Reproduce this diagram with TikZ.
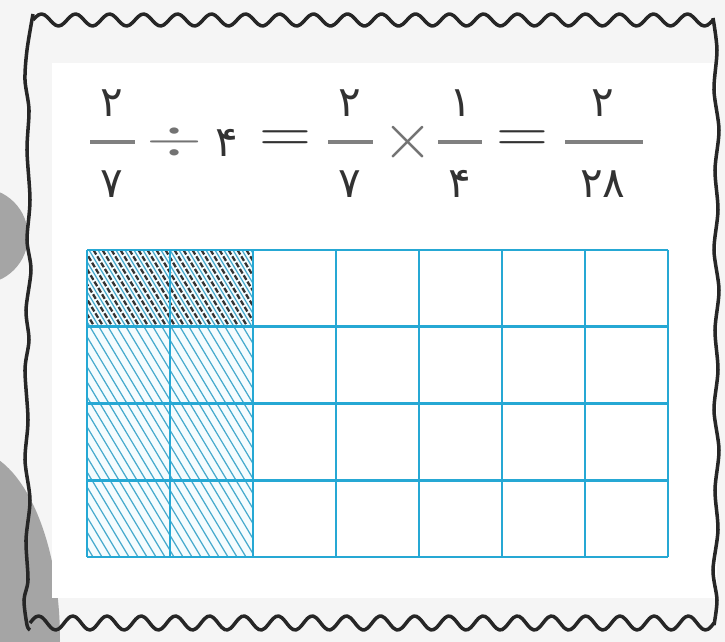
\documentclass[tikz,border=0pt]{standalone}
\usepackage{fontspec}
\usepackage{tikz}
\usetikzlibrary{positioning, calc}
\newfontfamily\fadigits[Script=Arabic]{DejaVu Sans}
\definecolor{gridblue}{RGB}{38,168,212}
\definecolor{hatchblue}{RGB}{70,170,205}
\definecolor{inkgray}{RGB}{50,50,50}
\definecolor{blobgray}{RGB}{165,165,165}

\begin{document}
\begin{tikzpicture}[x=0.02cm, y=-0.02cm,
    frameline/.style={line width=2pt, black!85, line join=round},
    gridline/.style={line width=1.6pt, gridblue},
    hatchline/.style={line width=0.7pt, hatchblue},
    darkhatch/.style={line width=1.3pt, black!80, dash pattern=on 3pt off 1.2pt},
    fracbar/.style={line width=2.2pt, black!50},
    digit/.style={inner sep=0pt, anchor=base, text=inkgray, font=\fadigits\fontsize{24}{24}\selectfont},
    oper/.style={inner sep=0pt, font=\fontsize{36}{36}\selectfont}]
  % page and background
  \useasboundingbox (0,0) rectangle (725,642);
  \fill[black!4] (0,0) rectangle (725,642);
  % grey blobs on the left
  \fill[blobgray] (-20,236) circle (48);
  \fill[blobgray] (-30,640) ellipse (90 and 190);
  % white sheet
  \fill[white] (52,63) rectangle (717,598);
  % wavy frame
  \draw[frameline] plot[domain=33:713, samples=240, smooth] (\x, {20 - 6*sin(10.588*(\x-33))});
  \draw[frameline] plot[domain=30:714, samples=240, smooth] (\x, {623 - 7*sin(10.526*(\x-30))});
  \draw[frameline] plot[smooth] coordinates
    {(33,14) (27,50) (25,80) (29,110) (27,150) (30,200) (27,240) (31,270) (26,310) (29,340)
     (25,370) (28,420) (25,460) (30,500) (26,540) (28,580) (24,600) (27,625) (30,630)};
  \draw[frameline] plot[smooth] coordinates
    {(713,18) (717,50) (714,90) (719,130) (715,170) (718,210) (714,250) (719,290) (715,330)
     (718,370) (714,410) (719,450) (715,490) (718,530) (713,570) (717,600) (714,625)};
  % equation
  \node[digit] (n1) at (112,117) {۲};
  \node[digit] (d1) at (112,198) {۷};
  \draw[fracbar] (90,142) -- (135,142);
  \node[oper, text=black!55] (divop) at (175,142) {\scalebox{1.65}[1.15]{$\div$}};
  \node[digit] (four) at (227,157) {۴};
  \node[oper, text=inkgray] (eq1) at (285,142) {\scalebox{1.65}[1.4]{$=$}};
  \node[digit] (n2) at (350,117) {۲};
  \node[digit] (d2) at (350,198) {۷};
  \draw[fracbar] (328,142) -- (373,142);
  \node[oper, text=black!55] (timesop) at (408,142) {\scalebox{1.5}{$\times$}};
  \node[digit] (n3) at (461,117) {۱};
  \node[digit] (d3) at (460,198) {۴};
  \draw[fracbar] (438,142) -- (482,142);
  \node[oper, text=inkgray] (eq2) at (522,142) {\scalebox{1.65}[1.4]{$=$}};
  \node[digit] (n4) at (603,117) {۲};
  \node[digit] (d4) at (603,198) {۲۸};
  \draw[fracbar] (565,142) -- (643,142);
  % hatching of the first two columns
  \begin{scope}
    \clip (87,250) rectangle (253,557);
    \fill[cyan!4] (87,250) rectangle (253,557);
    \foreach \k in {-100,-91,...,260}
      \draw[hatchline] (\k,250) -- (\k+184,557);
  \end{scope}
  \begin{scope}
    \clip (87,250) rectangle (253,327);
    \foreach \k in {-95.5,-86.5,...,260}
      \draw[darkhatch] (\k,250) -- (\k+184,557);
  \end{scope}
  % grid 7 x 4
  \foreach \i in {0,...,7}
    \draw[gridline] (87+83*\i,250) -- (87+83*\i,557);
  \foreach \j in {0,...,4}
    \draw[gridline] (87,250+76.75*\j) -- (668,250+76.75*\j);
\end{tikzpicture}
\end{document}
